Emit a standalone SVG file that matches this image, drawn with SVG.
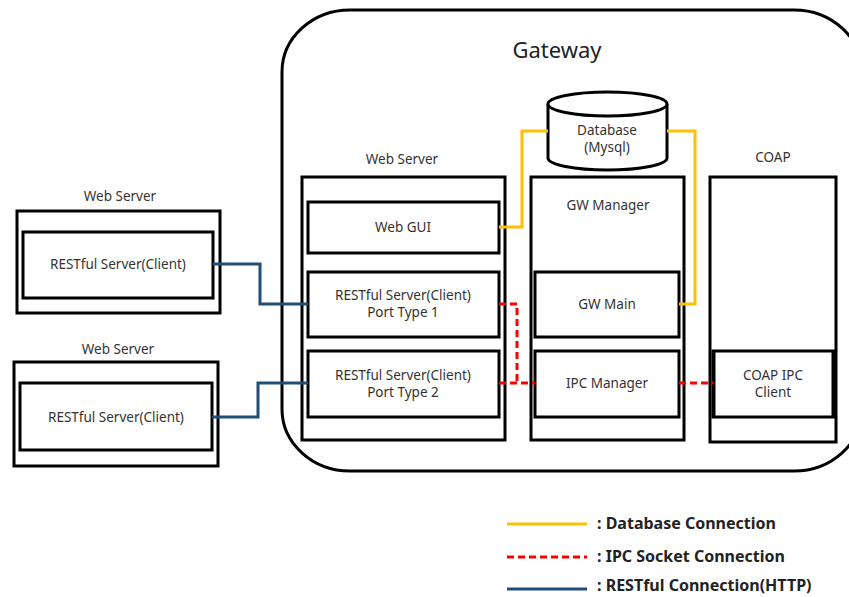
<svg xmlns="http://www.w3.org/2000/svg" width="849" height="597" viewBox="0 0 849 597">
<style>
.box{fill:#fff;stroke:#000;stroke-width:3}
.lbl{font-family:"Noto Sans","Liberation Sans",sans-serif;font-size:13.5px;fill:#333;text-anchor:middle}
.db{fill:none;stroke:#FFC000;stroke-width:3}
.ipc{fill:none;stroke:#FF0000;stroke-width:3;stroke-dasharray:7 4}
.rest{fill:none;stroke:#1F4E79;stroke-width:3}
.leg{font-family:"Noto Sans","Liberation Sans",sans-serif;font-size:16px;font-weight:bold;fill:#222}
</style>
<rect width="849" height="597" fill="#fff"/>
<g id="gateway">
<rect x="282" y="10" width="580" height="461" rx="68" ry="62" fill="#fff" stroke="#000" stroke-width="3"/>
<text x="557" y="58" font-family="'Noto Sans','Liberation Sans',sans-serif" font-size="22" fill="#222" text-anchor="middle">Gateway</text>
</g>
<g id="gw-webserver">
<text class="lbl" x="402" y="164">Web Server</text>
<rect class="box" x="302" y="177" width="203" height="263"/>
</g>
<g id="web-gui">
<rect class="box" x="308" y="202" width="191" height="51"/>
<text class="lbl" x="403" y="232">Web GUI</text>
</g>
<g id="rest-port1">
<rect class="box" x="308" y="272" width="191" height="65"/>
<text class="lbl" x="403" y="300">RESTful Server(Client)</text>
<text class="lbl" x="403" y="317">Port Type 1</text>
</g>
<g id="rest-port2">
<rect class="box" x="308" y="351" width="191" height="66"/>
<text class="lbl" x="403" y="380">RESTful Server(Client)</text>
<text class="lbl" x="403" y="397">Port Type 2</text>
</g>
<g id="gw-manager">
<rect class="box" x="531" y="177" width="153" height="263"/>
<text class="lbl" x="608" y="210">GW Manager</text>
</g>
<g id="gw-main">
<rect class="box" x="535" y="272" width="144" height="65"/>
<text class="lbl" x="607" y="309">GW Main</text>
</g>
<g id="ipc-manager">
<rect class="box" x="535" y="351" width="144" height="66"/>
<text class="lbl" x="607" y="388">IPC Manager</text>
</g>
<g id="database">
<path d="M548,104 L548,158 A59.5,12 0 0 0 667,158 L667,104" fill="#fff" stroke="#000" stroke-width="3"/>
<ellipse cx="607.5" cy="104" rx="59.5" ry="12" fill="#fff" stroke="#000" stroke-width="3"/>
<text class="lbl" x="607" y="135">Database</text>
<text class="lbl" x="607" y="152">(Mysql)</text>
</g>
<g id="coap">
<text class="lbl" x="773" y="162">COAP</text>
<rect class="box" x="710" y="177" width="126" height="265"/>
</g>
<g id="coap-ipc-client">
<rect class="box" x="713" y="351" width="121" height="66"/>
<line x1="714" y1="351" x2="714" y2="417" stroke="#000" stroke-width="3"/>
<line x1="833" y1="351" x2="833" y2="417" stroke="#000" stroke-width="3"/>
<text class="lbl" x="773" y="380">COAP IPC</text>
<text class="lbl" x="773" y="397">Client</text>
</g>
<g id="ext-webserver1">
<text class="lbl" x="120" y="201">Web Server</text>
<rect class="box" x="17" y="211" width="203" height="102"/>
<rect class="box" x="23" y="232" width="190" height="66"/>
<text class="lbl" x="118" y="269">RESTful Server(Client)</text>
</g>
<g id="ext-webserver2">
<text class="lbl" x="118" y="354">Web Server</text>
<rect class="box" x="14" y="362" width="204" height="104"/>
<rect class="box" x="20" y="383" width="192" height="67"/>
<text class="lbl" x="116" y="422">RESTful Server(Client)</text>
</g>
<g id="connectors">
<polyline class="db" points="499,227 522,227 522,131 548,131"/>
<polyline class="db" points="667,131 695,131 695,304 679,304"/>
<polyline class="ipc" points="499,304 517,304 517,383"/>
<line class="ipc" x1="499" y1="383" x2="535" y2="383"/>
<line class="ipc" x1="679" y1="383" x2="713" y2="383"/>
<polyline class="rest" points="213,264 260,264 260,304 308,304"/>
<polyline class="rest" points="212,417 258,417 258,383 308,383"/>
</g>
<g id="legend">
<line class="db" x1="507" y1="524" x2="587" y2="524"/>
<text class="leg" x="597" y="529">: Database Connection</text>
<line class="ipc" x1="507" y1="557" x2="587" y2="557"/>
<text class="leg" x="597" y="562">: IPC Socket Connection</text>
<line class="rest" x1="507" y1="589" x2="587" y2="589"/>
<text class="leg" x="597" y="591">: RESTful Connection(HTTP)</text>
</g>
</svg>
